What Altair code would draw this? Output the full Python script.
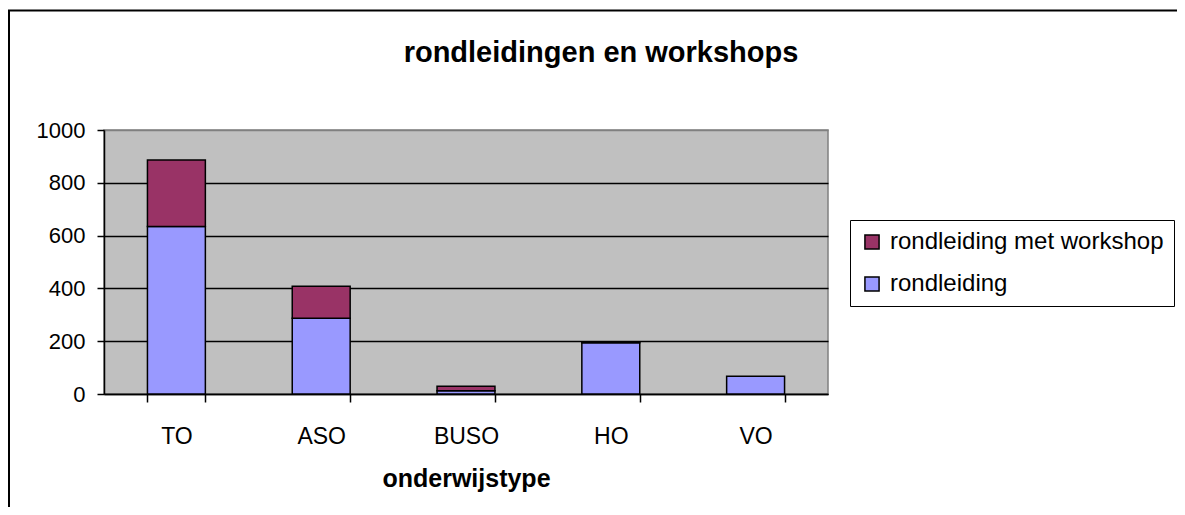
import altair as alt
import pandas as pd

title_text = "rondleidingen en workshops"
x_title = "onderwijstype"
categories = ["TO", "ASO", "BUSO", "HO", "VO"]
series_names = ["rondleiding met workshop", "rondleiding"]
series_colors = ["#993366", "#9999FF"]
rondleiding = [634, 287, 12, 194, 67]
met_workshop = [252, 121, 17, 3, 0]
y_ticks = [0, 200, 400, 600, 800, 1000]

rows = []
for c, r, w in zip(categories, rondleiding, met_workshop):
    rows.append({"type": c, "series": "rondleiding", "value": r, "ord": 0})
    rows.append({"type": c, "series": "rondleiding met workshop", "value": w, "ord": 1})
df = pd.DataFrame(rows)
df = df[df["value"] > 0]

FONT = "Liberation Sans"

border = alt.Chart(pd.DataFrame({"a": [0]})).mark_rect(
    fillOpacity=0, stroke="black", strokeWidth=2
).encode(
    x=alt.value(-95), x2=alt.value(1400), y=alt.value(-119.5), y2=alt.value(700)
)

bars = alt.Chart(df).mark_bar(stroke="black", strokeWidth=1.5).encode(
    x=alt.X(
        "type:N",
        sort=categories,
        scale=alt.Scale(paddingInner=0.6, paddingOuter=0.3),
        axis=alt.Axis(
            title=x_title,
            labelAngle=0,
            tickBand="extent",
            tickSize=8,
            tickColor="black",
            tickWidth=1.5,
            domainColor="black",
            domainWidth=1.5,
            labelPadding=23,
            labelFontSize=23,
            labelFont=FONT,
            labelColor="black",
            titleFont=FONT,
            titleFontSize=25,
            titleFontWeight="bold",
            titleColor="black",
            titlePadding=18,
            grid=False,
        ),
    ),
    y=alt.Y(
        "value:Q",
        stack="zero",
        scale=alt.Scale(domain=[0, 1000], nice=False),
        axis=alt.Axis(
            title=None,
            values=y_ticks,
            format="d",
            tickSize=7,
            tickColor="black",
            tickWidth=1.5,
            domainColor="black",
            domainWidth=1.5,
            labelPadding=12,
            labelFontSize=22,
            labelFont=FONT,
            labelColor="black",
            grid=True,
            gridColor={"condition": {"test": "datum.value >= 1000", "value": "#808080"}, "value": "black"},
            gridWidth=1.5,
        ),
    ),
    color=alt.Color(
        "series:N",
        scale=alt.Scale(domain=series_names, range=series_colors),
        legend=alt.Legend(
            title=None,
            orient="none",
            legendX=746,
            legendY=90,
            symbolType="square",
            symbolSize=200,
            symbolStrokeColor="black",
            symbolStrokeWidth=1.5,
            symbolOpacity=1,
            labelFont=FONT,
            labelFontSize=24,
            labelColor="black",
            labelLimit=500,
            labelOffset=6,
            rowPadding=18,
            padding=10,
            strokeColor="black",
            fillColor="white",
        ),
    ),
    order=alt.Order("ord:Q", sort="ascending"),
)

title_mark = alt.Chart(pd.DataFrame({"t": [title_text]})).mark_text(
    font=FONT, fontSize=29, fontWeight="bold", color="black", align="center", baseline="alphabetic"
).encode(text="t:N", x=alt.value(497), y=alt.value(-68))

chart = alt.layer(border, bars, title_mark).properties(
    width=724,
    height=264,
    padding={"left": 96, "top": 122, "right": 349, "bottom": 113},
    autosize=alt.AutoSizeParams(type="none"),
    background="white",
).configure_view(
    fill="#C0C0C0", stroke="#808080", strokeWidth=1.5
)

chart.save("out.html", embed_options={"renderer": "svg", "actions": False})
